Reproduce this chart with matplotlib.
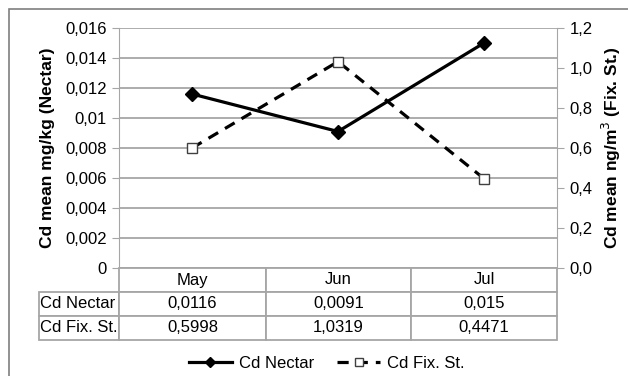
import matplotlib
matplotlib.use("Agg")
import matplotlib.pyplot as plt
from matplotlib.lines import Line2D
from matplotlib.patches import Rectangle
from matplotlib.ticker import FuncFormatter, MultipleLocator

plt.rcParams["font.family"] = ["Liberation Sans", "DejaVu Sans"]

# data
months = ["May", "Jun", "Jul"]
nectar = [0.0116, 0.0091, 0.015]
fix_st = [0.5998, 1.0319, 0.4471]
nectar_txt = ["0,0116", "0,0091", "0,015"]
fix_txt = ["0,5998", "1,0319", "0,4471"]

GRID = "#a6a6a6"
W, H = 628, 376

fig = plt.figure(figsize=(W / 100, H / 100), dpi=100)

# outer chart frame
fig.patches.append(Rectangle((9 / W, -0.1), 1.2, (H - 9) / H + 0.1,
                             transform=fig.transFigure, fill=False,
                             edgecolor="#7f7f7f", linewidth=1.2))

left, right, top, bottom = 119, 557, 28, 268
ax = fig.add_axes([left / W, (H - bottom) / H, (right - left) / W, (bottom - top) / H])
ax2 = ax.twinx()

x = list(range(len(months)))
ax.plot(x, nectar, color="black", lw=2.3, marker="D", ms=7, zorder=3)
ax2.plot(x, fix_st, color="black", lw=2.3, ls=(0, (3.5, 2.5)), marker="s", ms=6.5,
         mfc="white", mec="#404040", mew=1.0, zorder=3)

ax.set_xlim(-0.5, 2.5)
ax.set_ylim(0, 0.016)
ax2.set_ylim(0, 1.2)
ax.yaxis.set_major_locator(MultipleLocator(0.002))
ax2.yaxis.set_major_locator(MultipleLocator(0.2))

def comma(fmt):
    return FuncFormatter(lambda v, p: fmt(v).replace(".", ","))

ax.yaxis.set_major_formatter(comma(lambda v: "0" if abs(v) < 1e-9 else ("%.3f" % v).rstrip("0")))
ax2.yaxis.set_major_formatter(comma(lambda v: "%.1f" % v))

ax.grid(axis="y", color=GRID, lw=1.3)
ax.set_xticks([])
for a in (ax, ax2):
    for s in a.spines.values():
        s.set_visible(False)
ax.spines["left"].set_visible(True)
ax.spines["left"].set_color(GRID)
ax2.spines["right"].set_visible(True)
ax2.spines["right"].set_color(GRID)
ax.tick_params(axis="y", length=5, color=GRID, labelsize=12, pad=4)
ax2.tick_params(axis="y", length=5, color=GRID, labelsize=12, pad=4)

ax.set_ylabel("Cd mean mg/kg (Nectar)", fontsize=12.5, fontweight="bold", labelpad=7)
ax2.set_ylabel("Cd mean ng/m$^3$ (Fix. St.)", fontsize=12.5, fontweight="bold", labelpad=5)

# data table under the plot
cells = [[""] + months, ["Cd Nectar"] + nectar_txt, ["Cd Fix. St."] + fix_txt]
widths = [80, 147, 145, 146]
tot = sum(widths)
tbl = ax.table(cellText=cells, colWidths=[w / tot for w in widths],
               cellLoc="center", bbox=[(39 - left) / (right - left), -0.3,
                                       (right - 39) / (right - left), 0.3])
tbl.auto_set_font_size(False)
tbl.set_fontsize(12)
for (r, c), cell in tbl.get_celld().items():
    cell.set_edgecolor(GRID)
    cell.set_linewidth(1.3)
    if r == 0 and c == 0:
        cell.visible_edges = "open"
    if c == 0 and r > 0:
        cell.get_text().set_ha("left")
        cell.PAD = 0.015

# legend
handles = [
    Line2D([], [], color="black", lw=2.3, marker="D", ms=5),
    Line2D([], [], color="black", lw=2.3, ls=(0, (3.5, 2.5)), marker="s", ms=6,
           mfc="white", mec="#404040", mew=1.0),
]
fig.legend(handles, ["Cd Nectar", "Cd Fix. St."], loc="center",
           bbox_to_anchor=(0.52, (H - 363) / H), ncol=2, frameon=False,
           fontsize=12, handlelength=2.6, handletextpad=0.4, columnspacing=1.4)

fig.savefig("out.png", dpi=100)
